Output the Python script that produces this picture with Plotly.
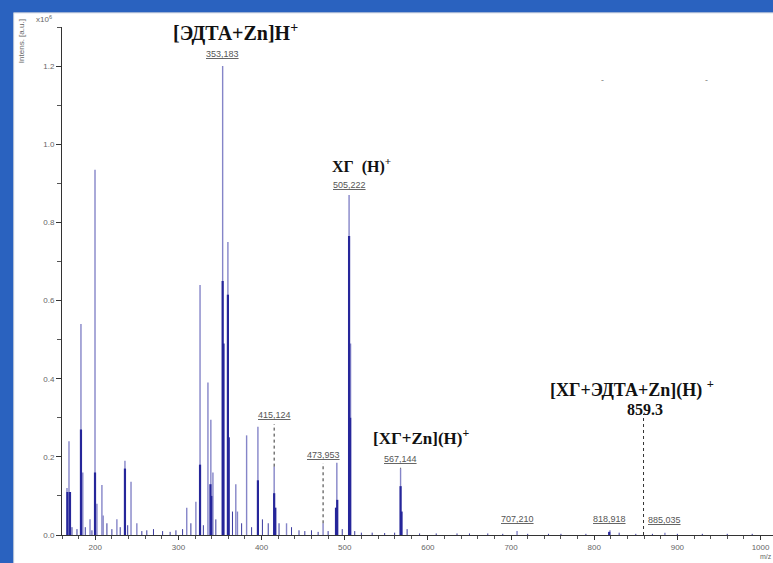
import plotly.graph_objects as go

# ---------------- data (m/z, intensity x10^6) ----------------
light_mz = [166.0, 168.4, 182.8, 185.0, 193.7, 199.7, 202.0, 208.0, 209.5, 226.0,
            235.7, 243.0, 250.0, 310.0, 321.0, 326.0, 335.5, 339.0, 341.5, 353.183,
            359.5, 369.0, 371.0, 382.0, 395.6, 415.124, 430.0, 473.953, 490.5,
            505.222, 507.0, 567.144, 707.21, 818.918, 885.035]
light_int = [0.12, 0.24, 0.54, 0.16, 0.04, 0.935, 0.08, 0.128, 0.05, 0.04,
             0.19, 0.136, 0.03, 0.07, 0.085, 0.64, 0.39, 0.295, 0.16, 1.20,
             0.75, 0.13, 0.06, 0.255, 0.277, 0.175, 0.03, 0.03, 0.185,
             0.87, 0.49, 0.17, 0.01, 0.012, 0.006]

dark_mz = [166.5, 169.6, 182.8, 199.7, 235.7, 326.0, 338.5, 339.5, 353.183, 354.2,
           359.5, 360.5, 395.6, 415.124, 416.5, 489.5, 491.0, 505.222, 506.5,
           567.144, 568.3, 818.0]
dark_int = [0.11, 0.11, 0.27, 0.16, 0.17, 0.18, 0.13, 0.10, 0.65, 0.49,
            0.615, 0.25, 0.14, 0.107, 0.07, 0.07, 0.09, 0.765, 0.30,
            0.125, 0.06, 0.008]

noise_mz = [172, 178, 188, 196, 214, 220, 230, 239, 256, 262, 270, 281, 290, 297,
            305, 315, 330, 345, 365, 376, 388, 401, 408, 421, 436, 445, 452, 460,
            468, 480, 497, 512, 520, 533, 548, 560, 575, 590, 610, 635, 650, 672,
            690, 720, 745, 760, 790, 830, 850, 870, 900, 930, 960, 990]
noise_int = [0.02, 0.015, 0.02, 0.012, 0.03, 0.015, 0.02, 0.025, 0.01, 0.012, 0.015,
             0.01, 0.008, 0.012, 0.015, 0.03, 0.025, 0.04, 0.06, 0.03, 0.02, 0.04,
             0.03, 0.03, 0.02, 0.012, 0.01, 0.012, 0.008, 0.01, 0.015, 0.01, 0.006,
             0.006, 0.005, 0.006, 0.015, 0.004, 0.004, 0.004, 0.004, 0.004, 0.003,
             0.003, 0.003, 0.003, 0.003, 0.006, 0.003, 0.003, 0.003, 0.003, 0.003,
             0.003]

x_ticks = [200, 300, 400, 500, 600, 700, 800, 900, 1000]
y_ticks = [0.0, 0.2, 0.4, 0.6, 0.8, 1.0, 1.2]

# peak labels
label_mz = [353.183, 505.222, 415.124, 473.953, 567.144, 707.21, 818.918, 885.035]
label_txt = ["353,183", "505,222", "415,124", "473,953", "567,144", "707,210",
             "818,918", "885,035"]
marker_859 = 859.3


def sticks(xs, ys):
    sx, sy = [], []
    for x, y in zip(xs, ys):
        sx += [x, x, None]
        sy += [0, y, None]
    return sx, sy


fig = go.Figure()
nx, ny = sticks(noise_mz, noise_int)
fig.add_trace(go.Scatter(x=nx, y=ny, mode="lines",
                         line=dict(color="#3a3a9e", width=1), hoverinfo="skip"))
lx, ly = sticks(light_mz, light_int)
fig.add_trace(go.Scatter(x=lx, y=ly, mode="lines",
                         line=dict(color="#8585c8", width=1.4), hoverinfo="skip"))
dx, dy = sticks(dark_mz, dark_int)
fig.add_trace(go.Scatter(x=dx, y=dy, mode="lines",
                         line=dict(color="#26269a", width=2.2), hoverinfo="skip"))

# white panel behind the chart
fig.add_shape(type="rect", xref="paper", yref="paper", x0=-0.068, x1=1.05,
              y0=-0.1, y1=1.028, fillcolor="white",
              line=dict(color="#b8c4d8", width=1), layer="below")

lab_font = dict(family="Liberation Sans, Arial", size=9, color="#555555",
                lineposition="under")
lab_y = {353.183: 1.212, 505.222: 0.877, 415.124: 0.288, 473.953: 0.188,
         567.144: 0.176, 707.21: 0.022, 818.918: 0.022, 885.035: 0.02}
for mz, t in zip(label_mz, label_txt):
    fig.add_annotation(x=mz, y=lab_y[mz], text=t, showarrow=False,
                       font=lab_font, yanchor="bottom")

# dashed connectors
pk = dict(zip(light_mz, light_int))
for mz in [415.124, 473.953, 567.144]:
    fig.add_shape(type="line", x0=mz, x1=mz, y0=pk[mz], y1=lab_y[mz] - 0.004,
                  line=dict(color="#333333", width=1, dash="dot"))
fig.add_shape(type="line", x0=marker_859, x1=marker_859, y0=0, y1=0.31,
              line=dict(color="#333333", width=1, dash="dot"))

big = dict(family="Liberation Serif, Times New Roman", size=20, color="#111111")
mid = dict(family="Liberation Serif, Times New Roman", size=16, color="#111111")
fig.add_annotation(x=369, y=1.285, text="<b>[ЭДТА+Zn]H<sup>+</sup></b>",
                   showarrow=False, font=big)
fig.add_annotation(x=520, y=0.945, text="<b>ХГ  (H)<sup>+</sup></b>",
                   showarrow=False, font=mid)
fig.add_annotation(x=592, y=0.252, text="<b>[ХГ+Zn](H)<sup>+</sup></b>",
                   showarrow=False, font=dict(mid, size=17))
fig.add_annotation(x=846, y=0.374, text="<b>[ХГ+ЭДТА+Zn](H) <sup>+</sup></b>",
                   showarrow=False, font=dict(mid, size=18))
fig.add_annotation(x=861, y=0.322, text="<b>859.3</b>", showarrow=False, font=mid)

# small marks near top right
for mz in [810, 935]:
    fig.add_annotation(x=mz, y=1.165, text="-", showarrow=False,
                       font=dict(size=9, color="#777777"))

small = dict(family="Liberation Sans, Arial", size=8, color="#666666")
fig.add_annotation(x=-0.065, y=1.02, xref="paper", yref="paper",
                   text="Intens. [a.u.]", textangle=-90, showarrow=False,
                   font=small, yanchor="top")
fig.add_annotation(x=-0.04, y=1.03, xref="paper", yref="paper",
                   text="x10<sup>6</sup>", showarrow=False, font=small)
fig.add_annotation(x=1.0, y=-0.051, xref="paper", yref="paper", text="m/z",
                   showarrow=False, font=dict(small, size=7), xanchor="right",
                   borderpad=0)

fig.update_layout(
    width=773, height=563,
    margin=dict(l=62, r=0, t=27, b=28),
    paper_bgcolor="#2a62bf", plot_bgcolor="white",
    showlegend=False,
    xaxis=dict(range=[160, 1015], tickvals=x_ticks, ticktext=[str(v) for v in x_ticks],
               automargin=False,
               showgrid=False, zeroline=False, showline=True, linecolor="#333333",
               linewidth=1, ticks="outside", ticklen=4, tickcolor="#333333",
               tickfont=small,
               minor=dict(dtick=20, tick0=0, ticks="outside", ticklen=3,
                          tickcolor="#555555")),
    yaxis=dict(range=[0, 1.30], tickvals=y_ticks, tickformat=".1f",
               automargin=False,
               showgrid=False, zeroline=False, showline=True, linecolor="#333333",
               linewidth=1, ticks="outside", ticklen=5, tickcolor="#333333",
               tickfont=small,
               minor=dict(dtick=0.1, tick0=0, ticks="outside", ticklen=4,
                          tickcolor="#555555")),
)

fig.write_html("out.html", config={"displayModeBar": False},
               post_script="document.body.style.margin='0';"
                           "document.body.style.background='#2a62bf';")
